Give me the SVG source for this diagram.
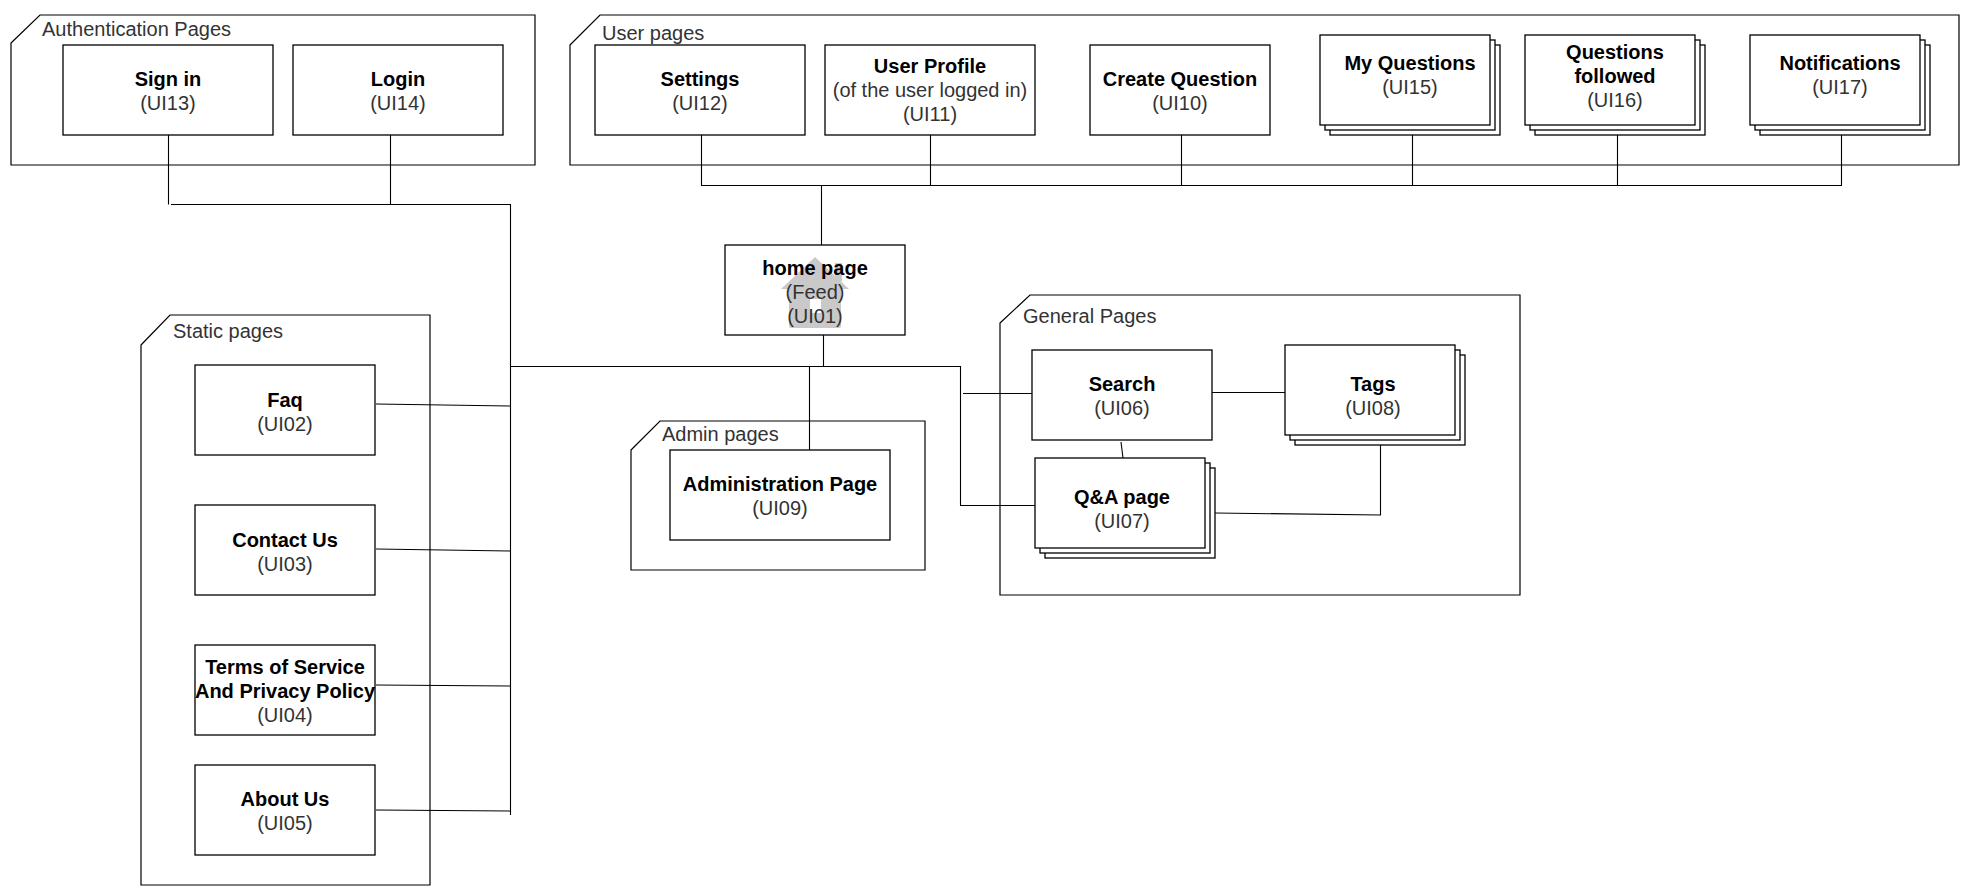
<svg xmlns="http://www.w3.org/2000/svg" width="1972" height="896" viewBox="0 0 1972 896">
<style>
.frame{fill:none;stroke:#000;stroke-width:1.2}
.box{fill:#fff;stroke:#000;stroke-width:1.3}
.lbl{font-family:"Liberation Sans",Arial,sans-serif;font-size:20px;fill:#333}
.t{font-family:"Liberation Sans",Arial,sans-serif;font-size:20px;text-anchor:middle}
.b{font-weight:bold;fill:#000}
.r{fill:#333}
.conn{fill:none;stroke:#000;stroke-width:1.1}
</style>
<rect width="1972" height="896" fill="#fff"/>

<g id="frames">
<g id="frame-auth"><path class="frame" d="M11 43 L40 15 H535 V165 H11 Z"/><text class="lbl" x="42" y="36">Authentication Pages</text></g>
<g id="frame-user"><path class="frame" d="M570 45 L600 15 H1959 V165 H570 Z"/><text class="lbl" x="602" y="40">User pages</text></g>
<g id="frame-static"><path class="frame" d="M141 345 L170 315 H430 V885 H141 Z"/><text class="lbl" x="173" y="338">Static pages</text></g>
<g id="frame-admin"><path class="frame" d="M631 450 L660 421 H925 V570 H631 Z"/><text class="lbl" x="662" y="441">Admin pages</text></g>
<g id="frame-general"><path class="frame" d="M1000 323 L1030 295 H1520 V595 H1000 Z"/><text class="lbl" x="1023" y="323">General Pages</text></g>
</g>

<g id="connectors">
<path class="conn" d="M168.5 135 V204.5 M171 204.5 H510.5 M390.5 135 V204.5 M510.5 204 V815"/>
<path class="conn" d="M823.5 335 V366.5 M510 366.5 H960.5 M960.5 366 V505.5 M809.5 366 V450"/>
<path class="conn" d="M963 393.5 H1032 M960 505.5 H1035"/>
<path class="conn" d="M376 404 L510 406 M376 549 L510 551 M376 685 L510 686 M376 810 L510 811"/>
<path class="conn" d="M701.5 135 V185.5 M930.5 135 V185.5 M1181.5 135 V185.5 M1412.5 135 V185.5 M1617.5 135 V185.5 M1841.5 135 V185.5 M701 185.5 H1842 M821.5 185 V245"/>
<path class="conn" d="M1212 392.5 H1285 M1121 442 L1123 458 M1215 513 L1380.5 515 V445"/>
</g>

<g id="ui13"><rect class="box" x="63" y="45" width="210" height="90"/><text class="t" x="168" y="86"><tspan class="b">Sign in</tspan><tspan class="r" x="168" y="110">(UI13)</tspan></text></g>
<g id="ui14"><rect class="box" x="293" y="45" width="210" height="90"/><text class="t" x="398" y="86"><tspan class="b">Login</tspan><tspan class="r" x="398" y="110">(UI14)</tspan></text></g>

<g id="ui12"><rect class="box" x="595" y="45" width="210" height="90"/><text class="t" x="700" y="86"><tspan class="b">Settings</tspan><tspan class="r" x="700" y="110">(UI12)</tspan></text></g>
<g id="ui11"><rect class="box" x="825" y="45" width="210" height="90"/><text class="t" x="930" y="73"><tspan class="b">User Profile</tspan><tspan class="r" x="930" y="97">(of the user logged in)</tspan><tspan class="r" x="930" y="121">(UI11)</tspan></text></g>
<g id="ui10"><rect class="box" x="1090" y="45" width="180" height="90"/><text class="t" x="1180" y="86"><tspan class="b">Create Question</tspan><tspan class="r" x="1180" y="110">(UI10)</tspan></text></g>
<g id="ui15"><rect class="box" x="1330" y="45" width="170" height="90"/><rect class="box" x="1325" y="40" width="170" height="90"/><rect class="box" x="1320" y="35" width="170" height="90"/><text class="t" x="1410" y="70"><tspan class="b">My Questions</tspan><tspan class="r" x="1410" y="94">(UI15)</tspan></text></g>
<g id="ui16"><rect class="box" x="1535" y="45" width="170" height="90"/><rect class="box" x="1530" y="40" width="170" height="90"/><rect class="box" x="1525" y="35" width="170" height="90"/><text class="t" x="1615" y="59"><tspan class="b">Questions</tspan><tspan class="b" x="1615" y="83">followed</tspan><tspan class="r" x="1615" y="107">(UI16)</tspan></text></g>
<g id="ui17"><rect class="box" x="1760" y="45" width="170" height="90"/><rect class="box" x="1755" y="40" width="170" height="90"/><rect class="box" x="1750" y="35" width="170" height="90"/><text class="t" x="1840" y="70"><tspan class="b">Notifications</tspan><tspan class="r" x="1840" y="94">(UI17)</tspan></text></g>

<g id="ui01"><rect class="box" x="725" y="245" width="180" height="90"/>
<g fill="#c9c9c9"><path d="M815 257 L849 289 L841 289 L841 326 Q841 328 839 328 L791 328 Q789 328 789 326 L789 289 L781 289 Z"/><rect x="835" y="263" width="7" height="18"/></g>
<rect x="810" y="299" width="11" height="14" fill="#fff"/>
<text class="t" x="815" y="275"><tspan class="b">home page</tspan><tspan class="r" x="815" y="299">(Feed)</tspan><tspan class="r" x="815" y="323">(UI01)</tspan></text></g>

<g id="ui09"><rect class="box" x="670" y="450" width="220" height="90"/><text class="t" x="780" y="491"><tspan class="b">Administration Page</tspan><tspan class="r" x="780" y="515">(UI09)</tspan></text></g>

<g id="ui06"><rect class="box" x="1032" y="350" width="180" height="90"/><text class="t" x="1122" y="391"><tspan class="b">Search</tspan><tspan class="r" x="1122" y="415">(UI06)</tspan></text></g>
<g id="ui08"><rect class="box" x="1295" y="355" width="170" height="90"/><rect class="box" x="1290" y="350" width="170" height="90"/><rect class="box" x="1285" y="345" width="170" height="90"/><text class="t" x="1373" y="391"><tspan class="b">Tags</tspan><tspan class="r" x="1373" y="415">(UI08)</tspan></text></g>
<g id="ui07"><rect class="box" x="1045" y="468" width="170" height="90"/><rect class="box" x="1040" y="463" width="170" height="90"/><rect class="box" x="1035" y="458" width="170" height="90"/><text class="t" x="1122" y="504"><tspan class="b">Q&amp;A page</tspan><tspan class="r" x="1122" y="528">(UI07)</tspan></text></g>

<g id="ui02"><rect class="box" x="195" y="365" width="180" height="90"/><text class="t" x="285" y="407"><tspan class="b">Faq</tspan><tspan class="r" x="285" y="431">(UI02)</tspan></text></g>
<g id="ui03"><rect class="box" x="195" y="505" width="180" height="90"/><text class="t" x="285" y="547"><tspan class="b">Contact Us</tspan><tspan class="r" x="285" y="571">(UI03)</tspan></text></g>
<g id="ui04"><rect class="box" x="195" y="645" width="180" height="90"/><text class="t" x="285" y="674"><tspan class="b">Terms of Service</tspan><tspan class="b" x="285" y="698">And Privacy Policy</tspan><tspan class="r" x="285" y="722">(UI04)</tspan></text></g>
<g id="ui05"><rect class="box" x="195" y="765" width="180" height="90"/><text class="t" x="285" y="806"><tspan class="b">About Us</tspan><tspan class="r" x="285" y="830">(UI05)</tspan></text></g>
</svg>
